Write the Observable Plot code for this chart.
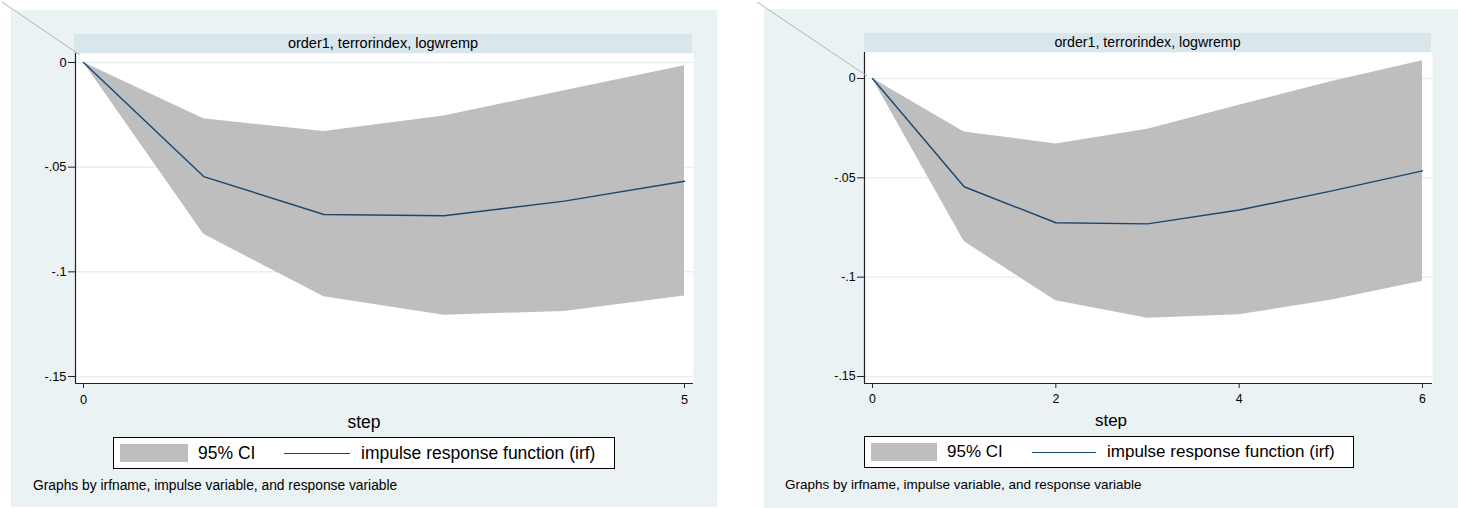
<!DOCTYPE html>
<html>
<head>
<meta charset="utf-8">
<script src="https://cdn.jsdelivr.net/npm/d3@7"></script>
<script src="https://cdn.jsdelivr.net/npm/@observablehq/plot@0.6"></script>
<style>
  html, body { margin: 0; padding: 0; background: #fff; }
  body { font-family: "Liberation Sans", Arial, Helvetica, sans-serif; color: #000; }
  #root { position: relative; width: 1458px; height: 508px; overflow: hidden; background: #fff; }
  .panel { position: absolute; background: #EAF2F3; }
  .panel svg.plot { position: absolute; left: 0; top: 0; }
  .strip { position: absolute; background: #D9E6EB; text-align: center; white-space: nowrap; }
  .xtitle { position: absolute; left: 0; width: 100%; text-align: center; line-height: 20px; }
  .legend { position: absolute; box-sizing: border-box; border: 1px solid #000; background: #fff; }
  .legend .sw { position: absolute; background: #BEBEBE; }
  .legend .ln { position: absolute; height: 0; border-top: 1.5px solid #1A476F; }
  .legend .tx { position: absolute; top: 0; height: 100%; display: flex; align-items: center; white-space: nowrap; }
  .caption { position: absolute; white-space: nowrap; line-height: 16px; }
  #diag { position: absolute; left: 0; top: 0; pointer-events: none; }
</style>
</head>
<body>
<div id="root"></div>
<script>
// ---- data ----
const steps   = [0, 1, 2, 3, 4, 5, 6];
const irf     = [0, -0.0545, -0.0726, -0.0732, -0.0662, -0.0567, -0.0465];
const ciLower = [0, -0.0821, -0.1119, -0.1207, -0.1189, -0.1116, -0.1021];
const ciUpper = [0, -0.0269, -0.0330, -0.0255, -0.0135, -0.0016, 0.0089];
const yTicks  = [0, -0.05, -0.1, -0.15];
const xTicksLeft  = [0, 5];
const xTicksRight = [0, 2, 4, 6];
const stripTitle  = "order1, terrorindex, logwremp";
const xTitle      = "step";
const legendCI    = "95% CI";
const legendIRF   = "impulse response function (irf)";
const captionText = "Graphs by irfname, impulse variable, and response variable";

const rows = steps.map((s, i) => ({step: s, irf: irf[i], lo: ciLower[i], hi: ciUpper[i]}));
const fmtY = d => d === 0 ? "0" : String(d).replace("0.", ".");

const root = document.getElementById("root");

function panel(cfg) {
  const p = document.createElement("div");
  p.className = "panel";
  Object.assign(p.style, {left: cfg.left + "px", top: cfg.top + "px", width: cfg.w + "px", height: cfg.h + "px"});
  root.appendChild(p);

  const data = rows.filter(r => r.step <= cfg.maxStep);
  const font = "'Liberation Sans', Arial, Helvetica, sans-serif";
  const chart = Plot.plot({
    width: cfg.w, height: cfg.h,
    marginLeft: cfg.m[0], marginRight: cfg.m[1], marginTop: cfg.m[2], marginBottom: cfg.m[3],
    style: {background: "transparent", fontFamily: font, fontSize: cfg.tickFont + "px", color: "#000", overflow: "visible"},
    x: {domain: [0, cfg.maxStep], insetLeft: cfg.inset[0], insetRight: cfg.inset[1]},
    y: {domain: [-0.15, 0], insetTop: cfg.inset[2], insetBottom: cfg.inset[3]},
    marks: [
      Plot.frame({fill: "white", stroke: "none"}),
      Plot.gridY({ticks: yTicks, stroke: "#E6EFF2", strokeOpacity: 1, strokeWidth: 1.5}),
      Plot.areaY(data, {x: "step", y1: "lo", y2: "hi", fill: "#BEBEBE", fillOpacity: 1}),
      Plot.line(data, {x: "step", y: "irf", stroke: "#1A476F", strokeWidth: 1.4}),
      Plot.ruleX([0], {dx: -cfg.inset[0], stroke: "#222", strokeWidth: 1.2}),
      Plot.ruleY([-0.15], {dy: cfg.inset[3], stroke: "#222", strokeWidth: 1.2}),
      Plot.axisY({ticks: yTicks, anchor: "left", tickSize: 7, tickPadding: 2, tickFormat: fmtY, label: null, stroke: "#222"}),
      Plot.axisX({ticks: cfg.xTicks, anchor: "bottom", tickSize: 5, tickPadding: 6, tickFormat: d => String(d), label: null, stroke: "#222"})
    ]
  });
  chart.classList.add("plot");
  p.appendChild(chart);

  const strip = document.createElement("div");
  strip.className = "strip";
  Object.assign(strip.style, {left: cfg.strip[0] + "px", top: cfg.strip[1] + "px", width: cfg.strip[2] + "px",
    height: cfg.strip[3] + "px", lineHeight: cfg.strip[3] + "px", fontSize: cfg.stripFont + "px"});
  strip.textContent = stripTitle;
  p.appendChild(strip);

  const xt = document.createElement("div");
  xt.className = "xtitle";
  Object.assign(xt.style, {top: cfg.xTitleTop + "px", fontSize: cfg.legFont + "px"});
  xt.textContent = xTitle;
  p.appendChild(xt);

  const L = cfg.leg;
  const lg = document.createElement("div");
  lg.className = "legend";
  Object.assign(lg.style, {left: L.x + "px", top: L.y + "px", width: L.w + "px", height: L.h + "px", fontSize: cfg.legFont + "px"});
  lg.innerHTML =
    `<div class="sw" style="left:${L.sw[0]}px;top:${L.sw[1]}px;width:${L.sw[2]}px;height:${L.sw[3]}px"></div>` +
    `<div class="tx" style="left:${L.t1}px">${legendCI}</div>` +
    `<div class="ln" style="left:${L.ln[0]}px;width:${L.ln[1]}px;top:${L.ln[2]}px"></div>` +
    `<div class="tx" style="left:${L.t2}px">${legendIRF}</div>`;
  p.appendChild(lg);

  const cap = document.createElement("div");
  cap.className = "caption";
  Object.assign(cap.style, {left: cfg.cap[0] + "px", top: cfg.cap[1] + "px", fontSize: cfg.capFont + "px"});
  cap.textContent = captionText;
  p.appendChild(cap);
}

panel({
  left: 11, top: 10, w: 706, h: 497, maxStep: 5, xTicks: xTicksLeft,
  m: [64, 24, 43, 124], inset: [8, 9, 9, 7],
  tickFont: 12.8, stripFont: 14.5, legFont: 17.5, capFont: 13.8,
  strip: [63, 24, 618, 19],
  xTitleTop: 402,
  leg: {x: 102, y: 427, w: 502, h: 32, sw: [6, 6, 68, 18], t1: 84, ln: [170, 66, 15], t2: 247},
  cap: [22, 468]
});

panel({
  left: 764, top: 9, w: 694, h: 499, maxStep: 6, xTicks: xTicksRight,
  m: [100, 26, 43, 125], inset: [8, 10, 26, 7],
  tickFont: 12.3, stripFont: 14.2, legFont: 17, capFont: 13.5,
  strip: [100, 24, 567, 19],
  xTitleTop: 402,
  leg: {x: 100, y: 427, w: 490, h: 32, sw: [6, 6, 66, 18], t1: 82, ln: [167, 64, 15], t2: 242},
  cap: [21, 468]
});

// decorative diagonal strokes seen at the top-left of each panel in the reference
const svg = d3.select(root).append("svg").attr("id", "diag").attr("width", 1458).attr("height", 508);
[[2, 2, 80, 55], [757, 2, 867, 76]].forEach(([x1, y1, x2, y2]) =>
  svg.append("line").attr("x1", x1).attr("y1", y1).attr("x2", x2).attr("y2", y2)
     .attr("stroke", "#B4B4B4").attr("stroke-width", 1));
</script>
</body>
</html>
